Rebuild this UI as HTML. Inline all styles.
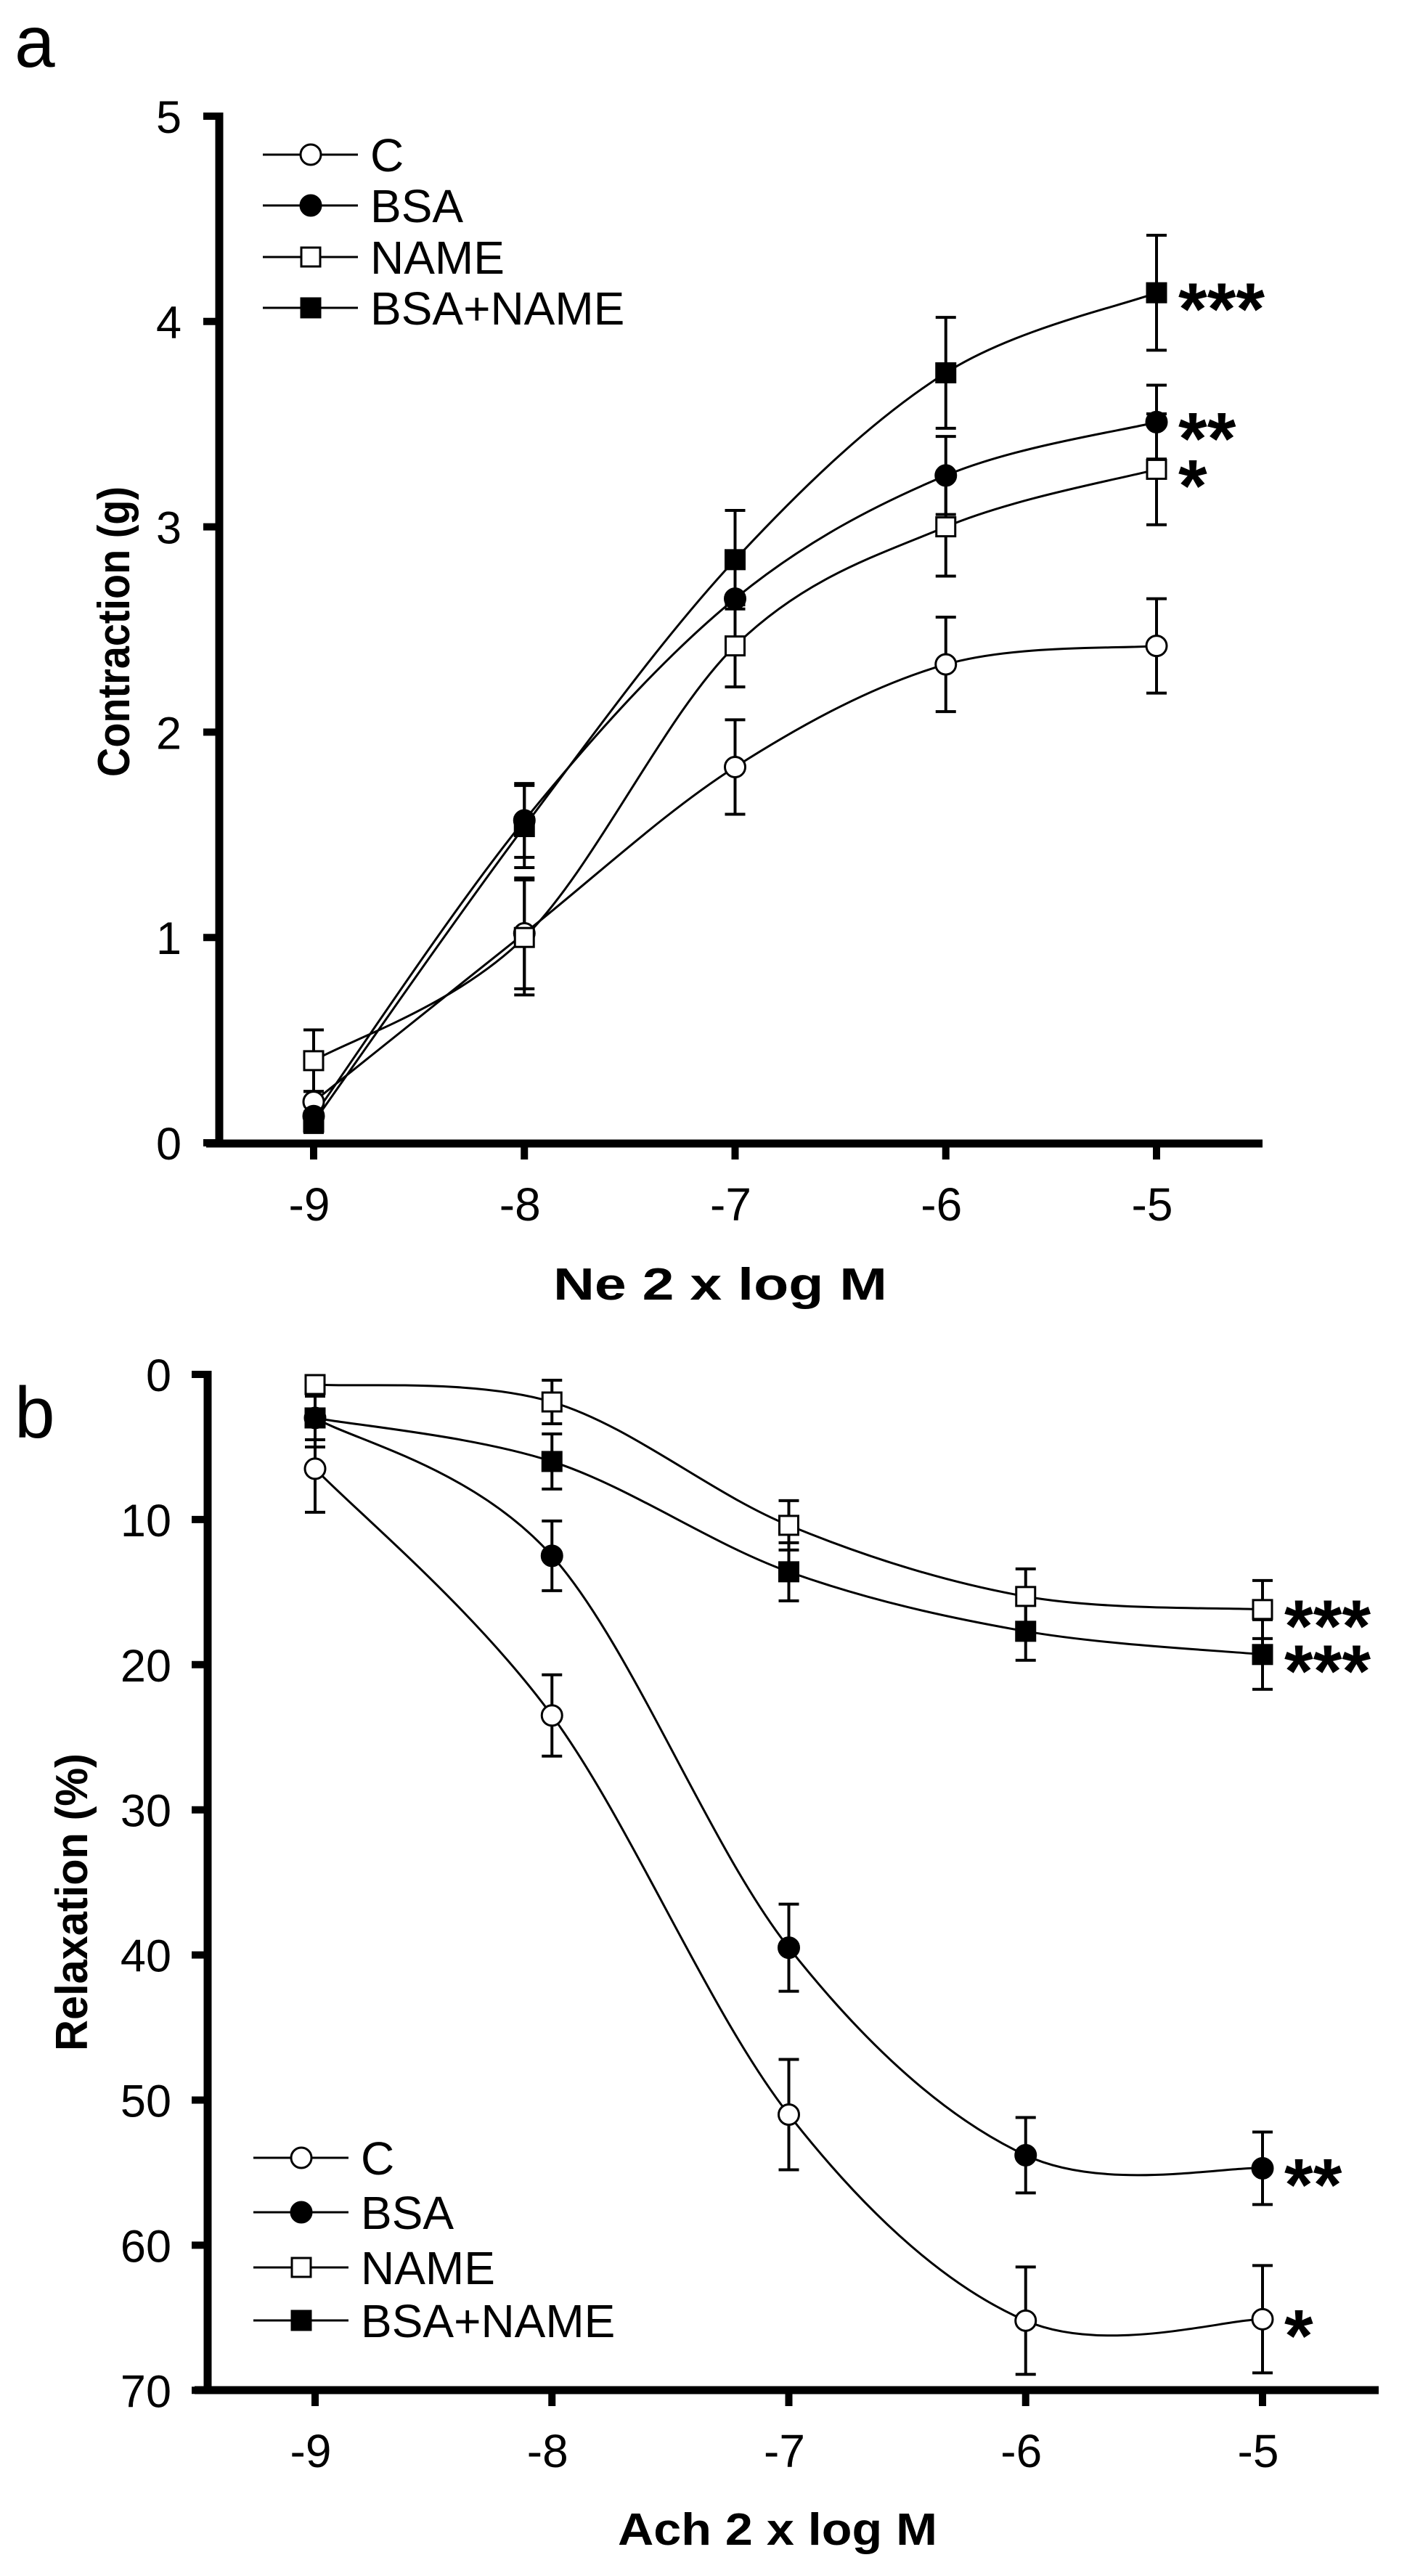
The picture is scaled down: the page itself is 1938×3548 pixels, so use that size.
<!DOCTYPE html>
<html><head><meta charset="utf-8"><style>
html,body{margin:0;padding:0;background:#fff;}
svg{display:block;font-family:"Liberation Sans",Arial,sans-serif;}
</style></head><body>
<svg id="fig" width="1938" height="3548" viewBox="0 0 1938 3548" xmlns="http://www.w3.org/2000/svg">
<text x="20" y="92" font-size="100">a</text>
<text x="20" y="1980" font-size="100">b</text>
<g id="pa"></g>
<g id="pb"></g>
</svg>
<script>
const xCategories = [-9, -8, -7, -6, -5];
const seriesNames = ["C", "BSA", "NAME", "BSA+NAME"];
const markerTypes = ["circle-open", "circle-filled", "square-open", "square-filled"];
// Panel a: contraction (g)
const aC = [0.2, 1.02, 1.83, 2.33, 2.42];
const aCerr = [0.05, 0.27, 0.23, 0.23, 0.23];
const aBSA = [0.13, 1.57, 2.65, 3.25, 3.51];
const aBSAerr = [0.05, 0.18, 0.2, 0.19, 0.18];
const aNAME = [0.4, 1.0, 2.42, 3.0, 3.28];
const aNAMEerr = [0.15, 0.28, 0.2, 0.24, 0.27];
const aBN = [0.1, 1.54, 2.84, 3.75, 4.14];
const aBNerr = [0.05, 0.2, 0.24, 0.27, 0.28];
const aYTicks = [0, 1, 2, 3, 4, 5];
const aSig = ["", "**", "*", "***"];
// Panel b: relaxation (%)
const bC = [6.5, 23.5, 51, 65.2, 65.1];
const bCerr = [3, 2.8, 3.8, 3.7, 3.7];
const bBSA = [3, 12.5, 39.5, 53.8, 54.7];
const bBSAerr = [1.5, 2.4, 3, 2.6, 2.5];
const bNAME = [0.7, 1.9, 10.4, 15.3, 16.2];
const bNAMEerr = [0.5, 1.5, 1.7, 1.9, 2.0];
const bBN = [3, 6, 13.6, 17.7, 19.3];
const bBNerr = [2, 1.9, 2, 2, 2.4];
const bYTicks = [0, 10, 20, 30, 40, 50, 60, 70];
const bSig = ["*", "**", "***", "***"];

const NS = "http://www.w3.org/2000/svg";
function mk(parent, tag, attrs, text) {
  const e = document.createElementNS(NS, tag);
  for (const k in attrs) e.setAttribute(k, attrs[k]);
  if (text !== undefined) e.textContent = text;
  parent.appendChild(e);
  return e;
}
function marker(g, type, cx, cy) {
  let e;
  if (type.startsWith("circle")) {
    e = mk(g, "circle", {cx: cx, cy: cy, r: 14, fill: type.endsWith("filled") ? "#000" : "#fff", stroke: "#000", "stroke-width": 3});
  } else {
    e = mk(g, "rect", {x: cx - 13, y: cy - 13, width: 26, height: 26, fill: type.endsWith("filled") ? "#000" : "#fff", stroke: "#000", "stroke-width": 3});
  }
  return e;
}
function catmull(pts) {
  let d = "M" + pts[0][0] + "," + pts[0][1];
  for (let i = 0; i < pts.length - 1; i++) {
    const p0 = pts[i - 1] || pts[i], p1 = pts[i], p2 = pts[i + 1], p3 = pts[i + 2] || p2;
    const c1x = p1[0] + (p2[0] - p0[0]) / 6, c1y = p1[1] + (p2[1] - p0[1]) / 6;
    const c2x = p2[0] - (p3[0] - p1[0]) / 6, c2y = p2[1] - (p3[1] - p1[1]) / 6;
    d += " C" + c1x + "," + c1y + " " + c2x + "," + c2y + " " + p2[0] + "," + p2[1];
  }
  return d;
}
function panel(cfg) {
  const g = document.getElementById(cfg.id);
  const X = v => cfg.x0 + (v - xCategories[0]) * cfg.xs;
  const Y = v => cfg.y0 + (v - cfg.yMin) * cfg.ys;
  const yTop = Math.min(Y(cfg.yTicks[0]), Y(cfg.yTicks[cfg.yTicks.length - 1]));
  const yAx = mk(g, "line", {x1: cfg.axX, y1: yTop - 5, x2: cfg.axX, y2: cfg.axY + 5, stroke: "#000", "stroke-width": 11});
  
  
  const xAx = mk(g, "line", {x1: cfg.axX - 18, y1: cfg.axY, x2: cfg.xEnd, y2: cfg.axY, stroke: "#000", "stroke-width": 11});
  
  
  cfg.yTicks.forEach(t => {
    const tk = mk(g, "line", {x1: cfg.axX - 22, y1: Y(t), x2: cfg.axX, y2: Y(t), stroke: "#000", "stroke-width": 10});
    
    
    const lb = mk(g, "text", {x: cfg.labX, y: Y(t) + 23, "font-size": 63, "text-anchor": "end"}, String(t));
    
    
  });
  xCategories.forEach(c => {
    const tk = mk(g, "line", {x1: X(c), y1: cfg.axY, x2: X(c), y2: cfg.axY + 22, stroke: "#000", "stroke-width": 10});
    
    
    const lb = mk(g, "text", {x: X(c) - 6, y: cfg.axY + 106, "font-size": 64, "text-anchor": "middle"}, String(c));
    
    
  });
  const xt = mk(g, "text", {x: cfg.xtX, y: cfg.xtY, "font-size": 62, "font-weight": "bold", "text-anchor": "middle", textLength: cfg.xtLen, lengthAdjust: "spacingAndGlyphs"}, cfg.xTitle);
  
  
  const yt = mk(g, "text", {x: 0, y: 0, "font-size": 62, "font-weight": "bold", "text-anchor": "middle", textLength: cfg.ytLen, lengthAdjust: "spacingAndGlyphs", transform: "translate(" + cfg.ytX + "," + cfg.ytY + ") rotate(-90)"}, cfg.yTitle);
  
  
  cfg.series.forEach((s, i) => {
    const pts = xCategories.map((c, j) => [X(c), Y(s[j])]);
    const p = mk(g, "path", {d: catmull(pts), fill: "none", stroke: "#000", "stroke-width": 3});
    
    
  });
  cfg.series.forEach((s, i) => {
    xCategories.forEach((c, j) => {
      const x = X(c), ya = Y(s[j] - cfg.errs[i][j]), yb = Y(s[j] + cfg.errs[i][j]);
      const eb = mk(g, "path", {d: "M" + x + "," + ya + "V" + yb + "M" + (x - 14) + "," + ya + "h28M" + (x - 14) + "," + yb + "h28", stroke: "#000", "stroke-width": 4, fill: "none"});
      
      
    });
  });
  cfg.series.forEach((s, i) => {
    xCategories.forEach((c, j) => {
      const m = marker(g, markerTypes[i], X(c), Y(s[j]));
      
      
    });
    if (cfg.sig[i]) {
      const last = s[s.length - 1];
      const st = mk(g, "text", {x: X(xCategories[xCategories.length - 1]) + 30, y: Y(last) + 58, "font-size": 102, "font-weight": "bold"}, cfg.sig[i]);
      
      
    }
  });
  seriesNames.forEach((n, i) => {
    const ly = cfg.legY[i];
    const ll = mk(g, "line", {x1: cfg.legX0, y1: ly, x2: cfg.legX0 + 131, y2: ly, stroke: "#000", "stroke-width": 3});
    
    
    const lm = marker(g, markerTypes[i], cfg.legX0 + 66, ly);
    
    
    const lt = mk(g, "text", {x: cfg.legX0 + 148, y: ly + 23, "font-size": 64}, n);
    
    
  });
}
panel({id: "pa", x0: 432, xs: 290.25, y0: 1574, yMin: 0, ys: -282.8, axX: 302, axY: 1575, xEnd: 1739,
  labX: 250, yTicks: aYTicks, xTitle: "Ne 2 x log M", xtX: 992, xtY: 1790, xtLen: 460, yTitle: "Contraction (g)", ytX: 178, ytY: 870, ytLen: 400,
  series: [aC, aBSA, aNAME, aBN], errs: [aCerr, aBSAerr, aNAMEerr, aBNerr], sig: aSig,
  legX0: 362, legY: [213, 283, 354, 424]});
panel({id: "pb", x0: 434, xs: 326.25, y0: 1893, yMin: 0, ys: 19.99, axX: 286, axY: 3292, xEnd: 1899,
  labX: 236, yTicks: bYTicks, xTitle: "Ach 2 x log M", xtX: 1071, xtY: 3505, xtLen: 440, yTitle: "Relaxation (%)", ytX: 120, ytY: 2620, ytLen: 410,
  series: [bC, bBSA, bNAME, bBN], errs: [bCerr, bBSAerr, bNAMEerr, bBNerr], sig: bSig,
  legX0: 349, legY: [2972, 3047, 3123, 3196]});
</script>
</body></html>
